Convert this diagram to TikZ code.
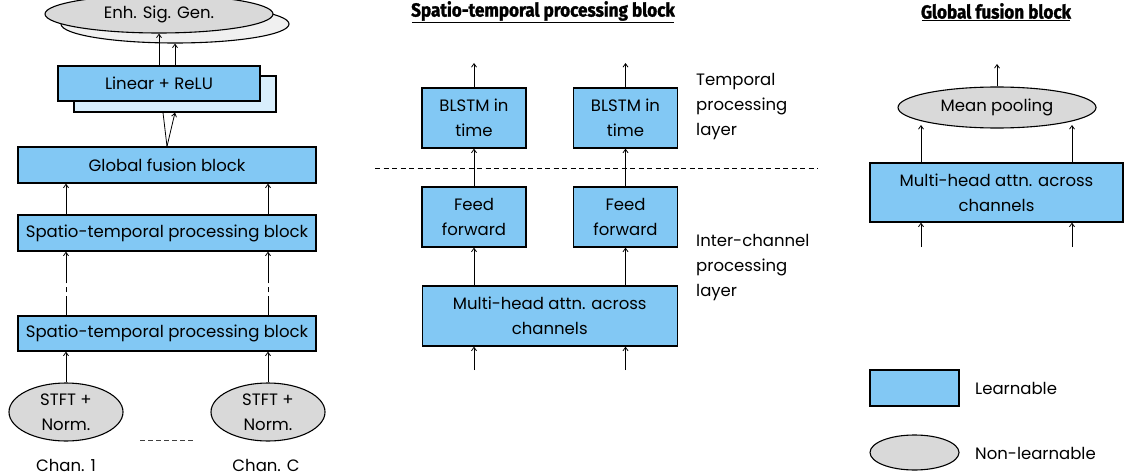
\documentclass[tikz,border=0pt]{standalone}
\usepackage{fontspec}
\setmainfont{Poppins}
\newfontfamily\titlefont[FakeBold=1.5]{Fira Sans}
\usetikzlibrary{arrows.meta,shapes.geometric,calc}
\definecolor{lblue}{HTML}{82C8F4}
\definecolor{paleblue}{HTML}{D8EEFC}
\definecolor{lgray}{HTML}{D9D9D9}
\definecolor{pgray}{HTML}{F0F0F0}
\begin{document}
\begin{tikzpicture}[x=1pt,y=-1pt,
 txt/.style={font=\fontsize{16.5}{25}\selectfont},
 box/.style={txt,draw,line width=1.2pt,fill=lblue,inner sep=0pt,align=center},
 oval/.style={txt,ellipse,draw,line width=1.1pt,fill=lgray,inner sep=0pt,align=center},
 arr/.style={-{Straight Barb[length=3.5pt,width=5pt]},line width=0.8pt},
 lbl/.style={txt,align=left,anchor=west,inner sep=0pt},
 ttl/.style={font=\titlefont\bfseries\fontsize{19}{22}\selectfont,inner sep=1pt}
]
\useasboundingbox (0,0) rectangle (1124,476);
% ---------------- left panel ----------------
\node[oval,fill=pgray,minimum width=228,minimum height=38] (enhback) at (175,24) {};
\node[oval,minimum width=228,minimum height=38] (enh) at (159,14) {Enh. Sig. Gen.};
\node[box,fill=paleblue,minimum width=202,minimum height=36] (linback) at (175,94) {};
\node[box,minimum width=202,minimum height=35] (lin) at (159,83.5) {Linear + ReLU};
\node[box,minimum width=298,minimum height=36] (gfb) at (167,165) {Global fusion block};
\node[box,minimum width=298,minimum height=36] (st2) at (167,233) {Spatio-temporal processing block};
\node[box,minimum width=298,minimum height=35] (st1) at (167,333.5) {Spatio-temporal processing block};
\node[oval,minimum width=114,minimum height=58] (stft1) at (66,412) {STFT +\\Norm.};
\node[oval,minimum width=114,minimum height=58] (stft2) at (268,412) {STFT +\\Norm.};
\node[txt,inner sep=0pt] (ch1) at (66,465) {Chan. 1};
\node[txt,inner sep=0pt] (chc) at (266,465) {Chan. C};
\coordinate (dl) at (140,440);
\coordinate (dr) at (193,440);
\draw[dashed,line width=0.9pt,black!75,dash pattern=on 5pt off 3pt] (dl) -- (dr);

\draw[arr] (lin.north) -- (enh.south);
\draw[arr] ($(lin.north)+(16,0)$) -- (enhback.south);
\draw[line width=0.8pt] (gfb.north) -- ($(linback.south)+(-12,0)$);
\draw[arr] (gfb.north) -- (linback.south);
\foreach \s in {stft1,stft2}{
  \draw[arr] (\s.north) -- (\s.north |- st1.south);
  \draw[arr,dash pattern=on 19pt off 4pt on 5pt off 4pt on 60pt off 0pt] (st1.north -| \s.north) -- (st2.south -| \s.north);
  \draw[arr] (st2.north -| \s.north) -- (gfb.south -| \s.north);
}
% ---------------- middle panel ----------------
\node[ttl] (t1) at (543,11) {\scalebox{0.9}[1]{Spatio-temporal processing block}};
\draw[line width=0.9pt] ($(t1.south west)+(2,0)$) -- ($(t1.south east)+(-2,0)$);
\node[box,minimum width=104,minimum height=60] (bl1) at (474,118) {BLSTM in\\time};
\node[box,minimum width=104,minimum height=60] (bl2) at (625.5,118) {BLSTM in\\time};
\node[box,minimum width=104,minimum height=60] (ff1) at (474,217) {Feed\\forward};
\node[box,minimum width=104,minimum height=60] (ff2) at (625.5,217) {Feed\\forward};
\node[box,minimum width=255,minimum height=60] (mh) at (549.75,316) {Multi-head attn. across\\channels};
\node[lbl] (tl) at (696,107) {Temporal\\processing\\layer};
\node[lbl] (il) at (696,268) {Inter-channel\\processing\\layer};
\coordinate (dsl) at (375,168);
\coordinate (dsr) at (818,168);
\draw[dashed,line width=0.9pt,dash pattern=on 5pt off 3.5pt] (dsl) -- (dsr);
\coordinate (o1) at (474,63);
\coordinate (o2) at (625.5,63);
\coordinate (i1) at (474,370);
\coordinate (i2) at (625.5,370);
\draw[arr] (bl1.north) -- (o1);
\draw[arr] (bl2.north) -- (o2);
\draw[arr] (ff1.north) -- (bl1.south);
\draw[arr] (ff2.north) -- (bl2.south);
\draw[arr] (mh.north -| ff1.north) -- (ff1.south);
\draw[arr] (mh.north -| ff2.north) -- (ff2.south);
\draw[arr] (i1) -- (mh.south -| i1);
\draw[arr] (i2) -- (mh.south -| i2);
% ---------------- right panel ----------------
\node[ttl] (t2) at (996,11) {\scalebox{0.9}[1]{Global fusion block}};
\draw[line width=0.9pt] ($(t2.south west)+(2,0)$) -- ($(t2.south east)+(-2,0)$);
\node[oval,minimum width=198,minimum height=41] (mp) at (997,107.5) {Mean pooling};
\node[box,minimum width=253,minimum height=59] (mh2) at (996.5,192.5) {Multi-head attn. across\\channels};
\coordinate (po) at (997,64);
\coordinate (pa) at (921,125);
\coordinate (pb) at (1072,125);
\coordinate (pi1) at (921,247);
\coordinate (pi2) at (1072,247);
\draw[arr] (mp.north) -- (po);
\draw[arr] (mh2.north -| pa) -- (pa);
\draw[arr] (mh2.north -| pb) -- (pb);
\draw[arr] (pi1) -- (mh2.south -| pi1);
\draw[arr] (pi2) -- (mh2.south -| pi2);
% legend
\node[box,minimum width=89,minimum height=36] (lg1) at (914.5,388) {};
\node[lbl] (lg1t) at (975,388) {Learnable};
\node[oval,minimum width=89,minimum height=35] (lg2) at (914.5,452.5) {};
\node[lbl] (lg2t) at (975,453) {Non-learnable};
\end{tikzpicture}
\end{document}
